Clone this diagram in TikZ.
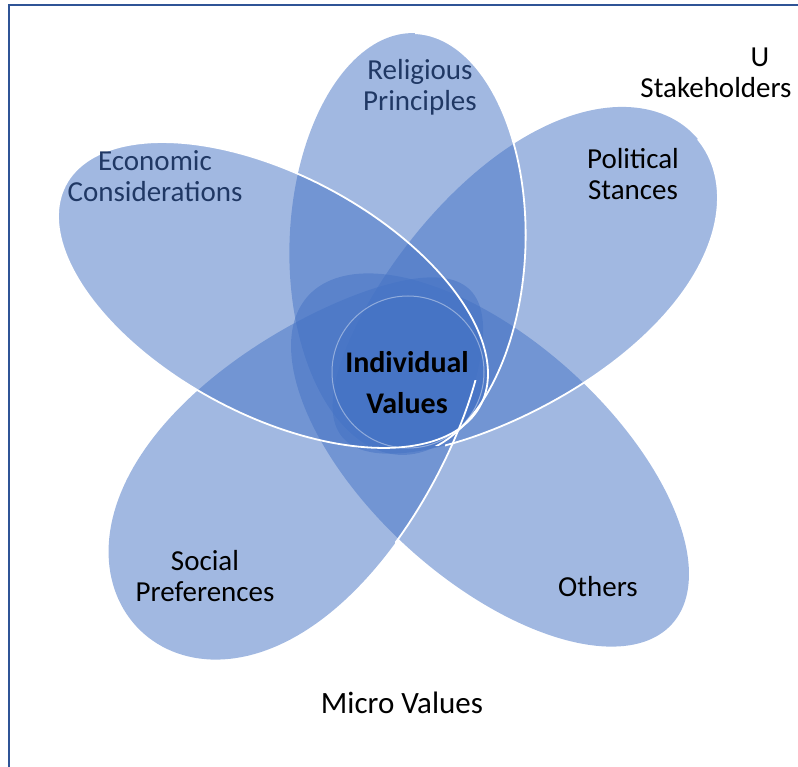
\documentclass[tikz,border=0pt]{standalone}
\usepackage{fontspec}
\setmainfont{Carlito}
\definecolor{petalblue}{RGB}{68,114,196}
\definecolor{darktext}{RGB}{32,56,100}
\definecolor{framecol}{RGB}{47,84,150}
% egg-shaped petal in local coordinates: #1 half length, #2 half width, #3 widening toward the far end
\newcommand\eggpath[3]{plot[domain=0:360, samples=180, variable=\t] ({#1*cos(\t)}, {#2*sin(\t)*(1+#3*cos(\t))}) -- cycle}
\newcommand\Rpath{[shift={(407.5,244)}, rotate=88] \eggpath{211}{118}{0}}
\newcommand\Epath{[shift={(273,295)}, rotate=152] \eggpath{235}{120}{0}}
\newcommand\Ppath{[shift={(520,288)}, rotate=40] \eggpath{232}{115}{0.2}}
\newcommand\Opath{[shift={(490,460)}, rotate=-42] \eggpath{245}{120}{0}}
\newcommand\Spath{[shift={(305,460)}, rotate=-134] \eggpath{237}{123}{0.25}}
\begin{document}
\begin{tikzpicture}[x=1pt,y=-1pt,
  petal/.style={fill=petalblue, fill opacity=0.5, draw=none},
  whiteedge/.style={draw=white, line width=1.8pt},
  lbl/.style={font=\fontsize{29}{31}\selectfont, align=center, text=black, inner sep=0pt},
  lbldark/.style={lbl, text=darktext},
  framestyle/.style={draw=framecol, line width=2pt}]
\useasboundingbox (0,0) rectangle (798,767);
% petals
\begin{scope}\path[petal] \Rpath;\end{scope}
\begin{scope}\path[petal] \Epath;\end{scope}
\begin{scope}\path[petal] \Ppath;\end{scope}
\begin{scope}\path[petal] \Opath;\end{scope}
\begin{scope}\path[petal] \Spath;\end{scope}
\node[circle, minimum size=152pt, inner sep=0pt, fill=petalblue, fill opacity=0.5,
      draw=white, draw opacity=0.4, line width=1pt] (core) at (408,372) {};
% white outlines
\begin{scope}\draw[whiteedge] \Epath;\end{scope}
\begin{scope}
  \clip (415,0) rectangle (798,445);
  \draw[whiteedge] \Rpath;
\end{scope}
\begin{scope}
  \clip (395,380) rectangle (560,560);
  \draw[whiteedge] \Spath;
\end{scope}
\begin{scope}
  \clip (445,500) -- (445,351) -- (760,87) -- (798,87) -- (798,700) -- cycle;
  \draw[whiteedge] \Ppath;
\end{scope}
% frame
\draw[framestyle] (9,767) -- (9,5) -- (798,5);
% labels
\node[lbldark] (rel) at (420,87) {Religious\\Principles};
\node[lbldark] (eco) at (155,176) {Economic\\Considerations};
\node[lbl] (pol) at (633,174) {Political\\Stances};
\node[lbl] (u) at (760,57) {U};
\node[lbl] (stake) at (716,88) {Stakeholders};
\node[lbl, font=\fontsize{30}{41}\selectfont\bfseries] (ind) at (407,383) {Individual\\Values};
\node[lbl] (soc) at (205,576) {Social\\Preferences};
\node[lbl] (oth) at (598,587) {Others};
\node[lbl, font=\fontsize{31}{33}\selectfont] (micro) at (402,703) {Micro Values};
\end{tikzpicture}
\end{document}
